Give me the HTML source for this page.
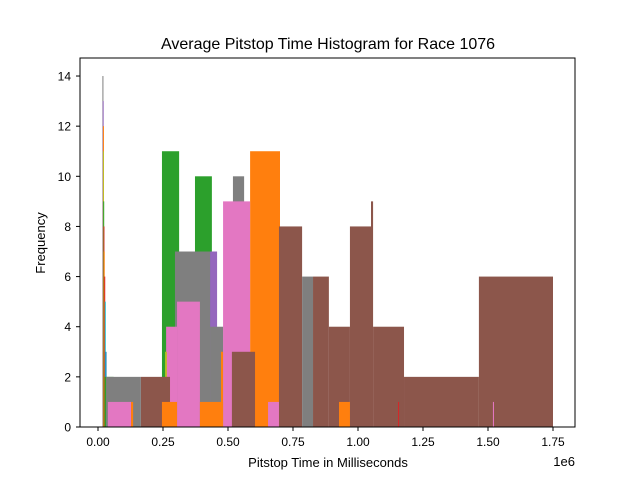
<!DOCTYPE html>
<html><head><meta charset="utf-8"><style>
body{margin:0;background:#fff}
svg text{font-family:"Liberation Sans","DejaVu Sans",sans-serif;}
</style></head><body>
<svg id="chart" width="640" height="480" xmlns="http://www.w3.org/2000/svg">
<rect x="0" y="0" width="640" height="480" fill="#fff"/>
<text x="328" y="49" font-size="16" text-anchor="middle">Average Pitstop Time Histogram for Race 1076</text>
<g id="bars"></g>
<rect x="80" y="58" width="495" height="369" fill="none" stroke="#000" stroke-width="1"/>
<g id="axes"></g>
<text x="328" y="467" font-size="13" text-anchor="middle">Pitstop Time in Milliseconds</text>
<text x="575" y="466" font-size="13" text-anchor="end">1e6</text>
<text transform="translate(45,243) rotate(-90)" font-size="13" text-anchor="middle">Frequency</text>
</svg>
<script>
const seriesColors = ["#1f77b4","#ff7f0e","#2ca02c","#d62728","#9467bd","#8c564b","#e377c2","#7f7f7f","#bcbd22","#17becf"];
// bins: series index, left edge (1e6 ms), right edge, count
const binSeries = [7,4,1,8,2,3,1,3,9,0,2, 5,5,5,5,5,5,5,5,5,5, 7,7,7,7,7, 2,2, 4, 6,6,6,6,6,6, 1,1,1,1,1,1, 3, 8];
const binLeft  = [0.017,0.018,0.019,0.019,0.020,0.021,0.022,0.024,0.026,0.029,0.025, 0.165,0.515,0.696,0.827,0.888,0.969,1.050,1.058,1.177,1.465, 0.031,0.296,0.431,0.519,0.785, 0.246,0.373, 0.431, 0.038,0.262,0.304,0.481,0.654,1.519, 0.127,0.246,0.392,0.473,0.585,0.927, 1.154, 0.258];
const binRight = [0.020,0.021,0.022,0.022,0.023,0.024,0.025,0.027,0.029,0.032,0.060, 0.277,0.604,0.785,0.888,0.969,1.050,1.058,1.177,1.465,1.750, 0.165,0.431,0.481,0.562,0.827, 0.312,0.438, 0.458, 0.127,0.304,0.392,0.585,0.696,1.523, 0.135,0.304,0.481,0.481,0.700,0.969, 1.158, 0.265];
const binCount = [14,13,12,11,9,8,7,6,5,3,2, 2,3,8,6,4,8,9,4,2,6, 2,7,4,10,6, 11,10, 7, 1,4,5,9,1,1, 1,1,1,3,11,1, 1, 3];
const xTicks = [0,0.25,0.5,0.75,1.0,1.25,1.5,1.75];
const xTickLabels = ["0.00","0.25","0.50","0.75","1.00","1.25","1.50","1.75"];
const yTicks = [0,2,4,6,8,10,12,14];

const NS="http://www.w3.org/2000/svg";
function xs(v){return 98+v*260;}
function ys(v){return 427-v*25.07;}
const g=document.getElementById('bars');
const order=binCount.map((c,i)=>i).sort((a,b)=>binCount[b]-binCount[a]);
order.forEach(i=>{
  const r=document.createElementNS(NS,'rect');
  const x0=xs(binLeft[i]), x1=xs(binRight[i]);
  r.setAttribute('x',x0);
  r.setAttribute('y',ys(binCount[i]));
  r.setAttribute('width',Math.max(1,x1-x0));
  r.setAttribute('height',ys(0)-ys(binCount[i]));
  r.setAttribute('fill',seriesColors[binSeries[i]]);
  
  
  g.appendChild(r);
});
const ax=document.getElementById('axes');
xTicks.forEach((t,i)=>{
  const l=document.createElementNS(NS,'line');
  l.setAttribute('x1',xs(t));l.setAttribute('x2',xs(t));l.setAttribute('y1',427);l.setAttribute('y2',431);l.setAttribute('stroke','#000');
  
  
  ax.appendChild(l);
  const tx=document.createElementNS(NS,'text');
  tx.setAttribute('x',xs(t));tx.setAttribute('y',446);tx.setAttribute('font-size','12');tx.setAttribute('text-anchor','middle');
  tx.textContent=xTickLabels[i];
  
  
  ax.appendChild(tx);
});
yTicks.forEach(t=>{
  const l=document.createElementNS(NS,'line');
  l.setAttribute('x1',76);l.setAttribute('x2',80);l.setAttribute('y1',ys(t));l.setAttribute('y2',ys(t));l.setAttribute('stroke','#000');
  
  
  ax.appendChild(l);
  const tx=document.createElementNS(NS,'text');
  tx.setAttribute('x',71);tx.setAttribute('y',ys(t)+4.5);tx.setAttribute('font-size','12');tx.setAttribute('text-anchor','end');
  tx.textContent=String(t);
  
  
  ax.appendChild(tx);
});
</script>
</body></html>
